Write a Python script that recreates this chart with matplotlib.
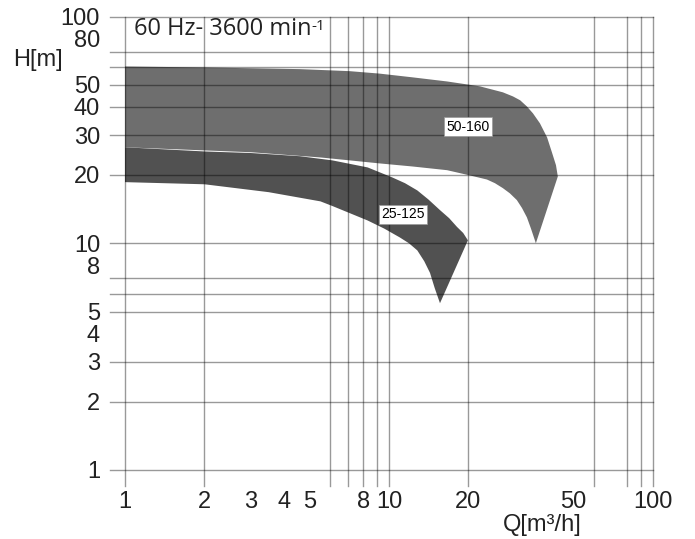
import matplotlib.pyplot as plt

# Curvas (Q em m3/h, H em m) - contorno de cada faixa
# 50-160: borda superior (esq->dir), ponta, borda inferior (dir->esq)
q_50_160 = [1.0, 2.0, 4.6, 7.1, 9.2, 12.3, 16.6, 22.1, 27.0, 29.5, 31.4, 33.3, 35.1,
            37.3, 39.7, 41.4, 42.9, 43.6,
            36.0, 34.5, 33.3, 31.9, 30.5, 28.7, 27.0, 25.2, 23.5, 20.3, 16.6, 12.3,
            9.2, 7.1, 5.5, 3.0, 1.0]
h_50_160 = [60.2, 59.6, 58.6, 57.4, 56.0, 53.9, 51.7, 49.2, 46.3, 44.4, 42.7, 40.1, 37.4,
            33.8, 29.3, 25.2, 22.1, 19.7,
            10.0, 11.6, 13.0, 14.3, 15.5, 16.6, 17.5, 18.4, 19.1, 19.9, 21.0, 21.8,
            22.5, 23.2, 23.9, 25.2, 26.5]

# 25-125
q_25_125 = [1.0, 2.0, 3.0, 4.6, 6.1, 8.3, 10.3, 11.5, 12.8, 14.1, 15.6, 16.9, 18.1,
            19.1, 19.9,
            15.6, 14.9, 14.3, 13.6, 12.8, 11.9, 11.0, 9.6, 8.3, 6.1, 5.5, 3.5, 2.0, 1.0]
h_25_125 = [26.5, 25.4, 25.0, 24.2, 23.2, 21.6, 19.5, 18.4, 17.1, 15.6, 14.0, 12.9, 11.8,
            11.1, 10.3,
            5.44, 6.34, 7.4, 8.33, 9.3, 10.0, 10.6, 11.6, 12.6, 14.6, 15.3, 16.8, 18.2, 18.6]

x_ticks = [1, 2, 3, 4, 5, 8, 10, 20, 50, 100]
y_ticks = [1, 2, 3, 4, 5, 8, 10, 20, 30, 40, 50, 80, 100]
# linhas da grade do desenho original (não coincidem com os rótulos)
x_grid = [1, 2, 6, 7, 8, 9, 10, 20, 60, 80, 90, 100]
y_grid = [1, 2, 3, 5, 6, 7, 10, 20, 30, 40, 50, 60, 70, 100]

W, H = 695, 539
fig = plt.figure(figsize=(W / 100, H / 100), dpi=100)
ax = fig.add_axes([125 / W, 1 - 470 / H, 528 / W, 453.5 / H])
ax.set_xscale('log')
ax.set_yscale('log')
ax.set_xlim(1, 100)
ax.set_ylim(1, 100)

ax.fill(q_50_160, h_50_160, color='#6e6e6e', lw=0, zorder=1)
ax.fill(q_25_125, h_25_125, color='#515151', lw=0, zorder=2)

# grade: sai um pouco para fora dos eixos (esquerda e embaixo)
for xv in x_grid:
    ax.plot([xv, xv], [-0.035, 1], transform=ax.get_xaxis_transform(),
            color='k', alpha=0.4, lw=1.0, clip_on=False, zorder=3)
for yv in y_grid:
    ax.plot([-0.028, 1], [yv, yv], transform=ax.get_yaxis_transform(),
            color='k', alpha=0.4, lw=1.0, clip_on=False, zorder=3)

for s in ax.spines.values():
    s.set_visible(False)

tick_font = dict(family='Liberation Sans', size=17, color='#222222')
ax.set_xticks(x_ticks)
ax.set_xticklabels([str(v) for v in x_ticks], fontdict=tick_font)
ax.set_yticks(y_ticks)
ax.set_yticklabels([str(v) for v in y_ticks], fontdict=tick_font)
ax.minorticks_off()
ax.tick_params(axis='x', length=0, pad=15)
ax.tick_params(axis='y', length=0, pad=18)

box = dict(boxstyle='square,pad=0.15', facecolor='white', edgecolor='#999999', lw=0.5)
ax.text(19.9, 32.7, '50-160', fontsize=10, family='Liberation Sans',
        ha='center', va='center', bbox=box, zorder=5)
ax.text(11.3, 13.4, '25-125', fontsize=10, family='Liberation Sans',
        ha='center', va='center', bbox=box, zorder=5)

t = fig.text(134 / W, 1 - 29 / H, '60 Hz- 3600 min', fontsize=17,
             family='Open Sans', color='#222222', va='center', ha='left')
ax.annotate('-1', xy=(1.0, 0.92), xycoords=t, fontsize=11, family='Open Sans',
            color='#222222', ha='left', va='top')

fig.text(13 / W, 1 - 60 / H, 'H[m]', fontsize=17, family='Liberation Sans',
         color='#222222', ha='left', va='center')
fig.text(503 / W, 1 - 525 / H, 'Q[m³/h]', fontsize=17, family='Liberation Sans',
         color='#222222', ha='left', va='center')

fig.savefig('out.png', dpi=100)
